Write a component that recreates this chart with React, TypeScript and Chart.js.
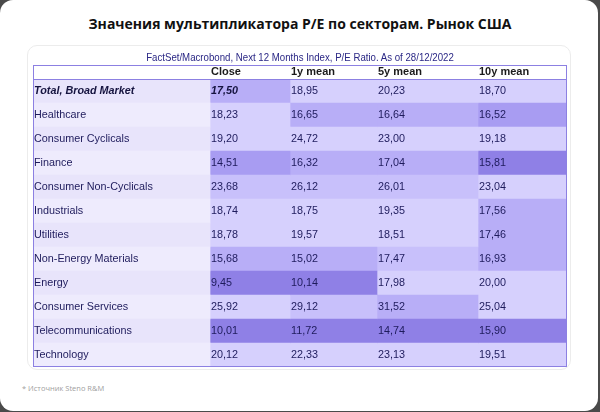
import React, { useEffect, useRef } from "react";
import { Chart, registerables } from "chart.js";

Chart.register(...registerables);

// ---------- data ----------
const SECTORS = [
  "Total, Broad Market",
  "Healthcare",
  "Consumer Cyclicals",
  "Finance",
  "Consumer Non-Cyclicals",
  "Industrials",
  "Utilities",
  "Non-Energy Materials",
  "Energy",
  "Consumer Services",
  "Telecommunications",
  "Technology",
];
const COLUMNS = ["Close", "1y mean", "5y mean", "10y mean"];
const CLOSE = [17.5, 18.23, 19.2, 14.51, 23.68, 18.74, 18.78, 15.68, 9.45, 25.92, 10.01, 20.12];
const MEAN_1Y = [18.95, 16.65, 24.72, 16.32, 26.12, 18.75, 19.57, 15.02, 10.14, 29.12, 11.72, 22.33];
const MEAN_5Y = [20.23, 16.64, 23.0, 17.04, 26.01, 19.35, 18.51, 17.47, 17.98, 31.52, 14.74, 23.13];
const MEAN_10Y = [18.7, 16.52, 19.18, 15.81, 23.04, 17.56, 17.46, 16.93, 20.0, 25.04, 15.9, 19.51];

const TITLE = "Значения мультипликатора P/E по секторам. Рынок США";
const SUBTITLE = "FactSet/Macrobond, Next 12 Months Index, P/E Ratio. As of 28/12/2022";
const FOOTNOTE = "* Источник Steno R&M";

// ---------- style / layout ----------
const COL_WIDTHS = [177, 80, 87, 101, 89]; // label column + 4 value columns
const PALETTE = ["#d6d0fd", "#c8c0fb", "#b8aef7", "#a89cf2", "#8f80e6"];
// heat level per cell (row x column), as shaded in the source
const SHADE = [
  [2, 0, 0, 0],
  [0, 2, 2, 3],
  [0, 0, 0, 0],
  [3, 2, 2, 4],
  [1, 1, 1, 0],
  [0, 0, 0, 2],
  [0, 0, 0, 2],
  [2, 2, 1, 2],
  [4, 4, 0, 0],
  [0, 1, 2, 0],
  [4, 4, 4, 4],
  [0, 0, 0, 0],
];
const LABEL_BG = ["#e8e4fb", "#eeebfd"];
const TEXT_COLOR = "#1e1b5c";
const BORDER_COLOR = "#8c80e2";
const FONT = "'Liberation Sans', Arial, sans-serif";

const fmt = (v: number) => v.toFixed(2).replace(".", ",");

export default function App() {
  const ref = useRef<HTMLCanvasElement | null>(null);

  useEffect(() => {
    if (!ref.current) return;
    const series = [CLOSE, MEAN_1Y, MEAN_5Y, MEAN_10Y];
    const edges: number[] = [0];
    COL_WIDTHS.forEach((w) => edges.push(edges[edges.length - 1] + w));

    const datasets: any[] = [
      {
        label: "Sector",
        data: SECTORS.map(() => [edges[0], edges[1]]),
        backgroundColor: SECTORS.map((_, i) => LABEL_BG[i % 2]),
      },
      ...COLUMNS.map((c, ci) => ({
        label: c,
        data: series[ci].map(() => [edges[ci + 1], edges[ci + 2]]),
        backgroundColor: series[ci].map((_, ri) => PALETTE[SHADE[ri][ci]]),
      })),
    ].map((d) => ({
      ...d,
      borderWidth: 0,
      borderSkipped: false,
      barPercentage: 1,
      categoryPercentage: 1,
      grouped: false,
    }));

    const tablePlugin = {
      id: "tableText",
      afterDatasetsDraw(chart: any) {
        const { ctx, chartArea } = chart;
        const { left, right, top, bottom } = chartArea;
        ctx.save();
        // header
        ctx.textBaseline = "middle";
        ctx.fillStyle = "#1a1a1a";
        ctx.font = `bold 11px ${FONT}`;
        COLUMNS.forEach((c, ci) => {
          const m = chart.getDatasetMeta(ci + 1).data[0];
          const x0 = Math.min(m.x, m.base);
          ctx.fillText(c, x0 + 1, top - 7);
        });
        // body
        SECTORS.forEach((s, ri) => {
          const bold = ri === 0;
          const lm = chart.getDatasetMeta(0).data[ri];
          ctx.fillStyle = bold ? "#15133f" : TEXT_COLOR;
          ctx.font = `${bold ? "italic bold " : ""}10.8px ${FONT}`;
          ctx.fillText(s, Math.min(lm.x, lm.base) + 1, lm.y + 0.5);
          series.forEach((arr, ci) => {
            const m = chart.getDatasetMeta(ci + 1).data[ri];
            const x0 = Math.min(m.x, m.base);
            ctx.font = `${bold && ci === 0 ? "italic bold " : ""}10.8px ${FONT}`;
            ctx.fillStyle = bold && ci === 0 ? "#15133f" : TEXT_COLOR;
            ctx.fillText(fmt(arr[ri]), x0 + 1, m.y + 0.5);
          });
        });
        // borders
        ctx.strokeStyle = BORDER_COLOR;
        ctx.lineWidth = 1;
        ctx.strokeRect(left + 0.5, top - 14 + 0.5, right - left - 1, bottom - top + 14 - 1);
        ctx.beginPath();
        ctx.moveTo(left, top + 0.5);
        ctx.lineTo(right, top + 0.5);
        ctx.stroke();
        ctx.restore();
      },
    };

    const chart = new Chart(ref.current, {
      type: "bar",
      data: { labels: SECTORS, datasets },
      options: {
        indexAxis: "y",
        animation: false,
        responsive: false,
        devicePixelRatio: 1,
        events: [],
        layout: { padding: { left: 6, right: 4, top: 34, bottom: 3 } },
        plugins: { legend: { display: false }, tooltip: { enabled: false }, title: { display: false } },
        scales: {
          x: { type: "linear", min: 0, max: edges[edges.length - 1], display: false, grid: { display: false } },
          y: { type: "category", display: false, grid: { display: false } },
        },
      },
      plugins: [tablePlugin],
    } as any);
    return () => chart.destroy();
  }, []);

  return (
    <div
      style={{
        position: "fixed",
        left: 0,
        top: 0,
        width: 600,
        height: 412,
        background: "#4a4a4a",
        overflow: "hidden",
      }}
    >
      <div
        style={{
          position: "absolute",
          left: 0,
          top: 0,
          width: 598,
          height: 411,
          background: "#ffffff",
          borderRadius: 13,
        }}
      />
      <div
        style={{
          position: "absolute",
          left: 0,
          top: 14,
          width: 600,
          textAlign: "center",
          fontFamily: "'Open Sans', sans-serif",
          fontWeight: 700,
          fontSize: 14,
          lineHeight: "20px",
          color: "#111",
          whiteSpace: "nowrap",
        }}
      >
        {TITLE}
      </div>
      <div
        style={{
          position: "absolute",
          left: 27,
          top: 45,
          width: 544,
          height: 325,
          boxSizing: "border-box",
          border: "1px solid #ececec",
          borderRadius: 10,
          background: "#fff",
        }}
      />
      <canvas
        ref={ref}
        width={544}
        height={325}
        style={{ position: "absolute", left: 27, top: 45, width: 544, height: 325 }}
      />
      <div
        style={{
          position: "absolute",
          left: 0,
          top: 50,
          width: 600,
          textAlign: "center",
          fontFamily: FONT,
          fontSize: 11.5,
          lineHeight: "14px",
          color: "#2a2785",
          whiteSpace: "nowrap",
          transform: "scaleX(0.84)",
          transformOrigin: "300px 0",
        }}
      >
        {SUBTITLE}
      </div>
      <div
        style={{
          position: "absolute",
          left: 22,
          top: 383,
          fontFamily: "'Open Sans', sans-serif",
          fontSize: 7.5,
          lineHeight: "10px",
          color: "#a0a0a0",
          whiteSpace: "nowrap",
        }}
      >
        {FOOTNOTE}
      </div>
    </div>
  );
}
